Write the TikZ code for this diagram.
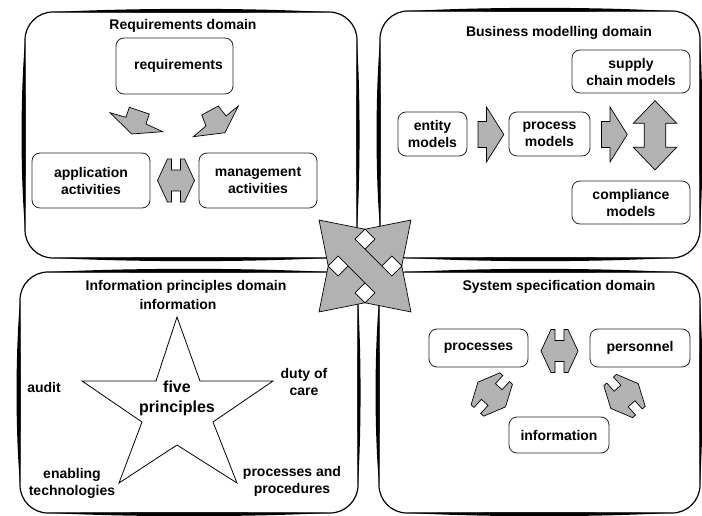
\documentclass[tikz,border=0pt]{standalone}
\usepackage{fontspec}
\setmainfont{Liberation Sans}
\usetikzlibrary{calc}

% thick brush-like strokes along the four sides of a rounded panel
\newcommand\panelbrush[1]{%
  \fill ($(#1.north west)+(30,0)$) .. controls ($(#1.north west)!0.33!(#1.north east)+(0,-4.2)$) and ($(#1.north west)!0.67!(#1.north east)+(0,-4.2)$) .. ($(#1.north east)+(-30,0)$) .. controls ($(#1.north west)!0.67!(#1.north east)+(0,0.8)$) and ($(#1.north west)!0.33!(#1.north east)+(0,0.8)$) .. cycle;
  \fill ($(#1.south west)+(30,0)$) .. controls ($(#1.south west)!0.33!(#1.south east)+(0,4.2)$) and ($(#1.south west)!0.67!(#1.south east)+(0,4.2)$) .. ($(#1.south east)+(-30,0)$) .. controls ($(#1.south west)!0.67!(#1.south east)+(0,-0.8)$) and ($(#1.south west)!0.33!(#1.south east)+(0,-0.8)$) .. cycle;
  \fill ($(#1.north west)+(0,30)$) .. controls ($(#1.north west)!0.33!(#1.south west)+(-4.6,0)$) and ($(#1.north west)!0.67!(#1.south west)+(-4.6,0)$) .. ($(#1.south west)+(0,-30)$) .. controls ($(#1.north west)!0.67!(#1.south west)+(0.8,0)$) and ($(#1.north west)!0.33!(#1.south west)+(0.8,0)$) .. cycle;
  \fill ($(#1.north east)+(0,30)$) .. controls ($(#1.north east)!0.33!(#1.south east)+(3.4,0)$) and ($(#1.north east)!0.67!(#1.south east)+(3.4,0)$) .. ($(#1.south east)+(0,-30)$) .. controls ($(#1.north east)!0.67!(#1.south east)+(-0.8,0)$) and ($(#1.north east)!0.33!(#1.south east)+(-0.8,0)$) .. cycle;
}

\tikzset{
  base/.style={font=\bfseries\fontsize{14}{17}\selectfont, align=center, inner sep=0pt},
  bigtext/.style={font=\bfseries\fontsize{16}{20}\selectfont, align=center, inner sep=0pt},
  panel/.style={draw, line width=1.2pt, rounded corners=28pt, outer sep=0pt, inner sep=0pt},
  box/.style={base, draw=black!85, line width=0.8pt, rounded corners=8pt, fill=white, outer sep=0pt},
  blockarrow/.style={draw=black, line width=0.7pt, fill=black!30, line join=miter},
  % short double arrow with notched shaft
  hdbl/.pic={\draw[blockarrow] (-18.5,0) -- (-8.5,-21.5) -- (-4.5,-21.5) -- (-4.5,-10.5) -- (4.5,-10.5) -- (4.5,-21.5) -- (8.5,-21.5) -- (18.5,0) -- (8.5,21.5) -- (4.5,21.5) -- (4.5,10.5) -- (-4.5,10.5) -- (-4.5,21.5) -- (-8.5,21.5) -- cycle;},
  % block arrow pointing right
  rarrow/.pic={\draw[blockarrow] (-13,-13) -- (-4.5,-13) -- (-4.5,-27.5) -- (12.8,0) -- (-4.5,27.5) -- (-4.5,13) -- (-13,13) -- cycle;},
  % vertical double block arrow
  vdbl/.pic={\draw[blockarrow] (0,-34.6) -- (21.7,-12) -- (10.8,-12) -- (10.8,12) -- (21.7,12) -- (0,34.6) -- (-21.7,12) -- (-10.8,12) -- (-10.8,-12) -- (-21.7,-12) -- cycle;},
  % jagged arrows down to the activities
  bentl/.pic={\draw[blockarrow] (-26,-8.3) -- (-10,-3.7) -- (-6.7,-13.7) -- (13.3,-7) -- (10,3) -- (26.7,10.7) -- (-4.3,13) -- cycle;},
  bentr/.pic={\draw[blockarrow] (22.3,-15) -- (10,-5) -- (2.3,-15) -- (-14.3,-6) -- (-10,5) -- (-22.7,15.7) -- (9,11.7) -- cycle;},
  % two crossing double arrows linking the four domains
  crossarrows/.pic={
    \fill[white] (-46,-46) -- (0,-36.8) -- (46,-46) -- (36.8,0) -- (46,46) -- (0,36.8) -- (-46,46) -- (-36.8,0) -- cycle;
    \draw[blockarrow, rotate=45] (-65,0) -- (-26,-26) -- (-26,-12) -- (26,-12) -- (26,-26) -- (65,0) -- (26,26) -- (26,12) -- (-26,12) -- (-26,26) -- cycle;
    \draw[blockarrow, rotate=-45] (-65,0) -- (-26,-26) -- (-26,-12) -- (26,-12) -- (26,-26) -- (65,0) -- (26,26) -- (26,12) -- (-26,12) -- (-26,26) -- cycle;
  },
}

\begin{document}
\begin{tikzpicture}[x=1pt, y=-1pt]
\fill[white] (0,0) rectangle (702,516);
\useasboundingbox (0,0) rectangle (702,516);

% domain panels
\node[panel, minimum width=332pt, minimum height=246pt] (reqdom) at (191,135) {};
\node[panel, minimum width=320pt, minimum height=247pt] (busdom) at (540,134.5) {};
\node[panel, minimum width=338pt, minimum height=241pt] (infodom) at (189,392.5) {};
\node[panel, minimum width=321pt, minimum height=241pt] (sysdom) at (539.5,392.5) {};
\panelbrush{reqdom}
\panelbrush{busdom}
\panelbrush{infodom}
\panelbrush{sysdom}

% requirements domain
\node[base] (reqtitle) at (183,26) {Requirements domain};
\node[box, minimum width=117pt, minimum height=56pt] (req) at (174.5,66) {\hspace*{8pt}requirements};
\node[box, minimum width=118pt, minimum height=55pt] (appact) at (91,180.5) {application\\activities};
\node[box, minimum width=118pt, minimum height=55pt] (mgmt) at (258,180.5) {management\\activities};
\pic at ($(req.south west)!0.5!(appact.north east)+(3,-2.5)$) {bentl};
\pic at ($(req.south east)!0.5!(mgmt.north west)+(0,-2.5)$) {bentr};
\pic at ($(appact.east)!0.5!(mgmt.west)+(1.5,0)$) {hdbl};

% business modelling domain
\node[base] (bustitle) at (559,33) {Business modelling domain};
\node[box, minimum width=118pt, minimum height=43pt] (supply) at (631,71.5) {supply\\chain models};
\node[box, minimum width=69pt, minimum height=44pt] (entity) at (432.5,134) {entity\\models};
\node[box, minimum width=81pt, minimum height=44pt] (process) at (549.5,134) {process\\models};
\node[box, minimum width=118pt, minimum height=43pt] (compliance) at (631,202.5) {compliance\\models};
\pic at ($(entity.east)!0.5!(process.west)+(3,0.5)$) {rarrow};
\pic at ($(process.east)+(24.5,0.5)$) {rarrow};
\pic at ($(supply.south)!0.5!(compliance.north)+(24,-1.7)$) {vdbl};

% information principles domain
\node[base] (infotitle) at (186,287) {Information principles domain};
\node[base] (infosub) at (178,304) {information};
\draw[line width=0.8pt, fill=white] (177,317) -- (200,381) -- (273,381) -- (213,422) -- (237,483) -- (177,445) -- (119,483) -- (142,422) -- (82,381) -- (156,381) -- cycle;
\node[bigtext] (five) at (177,398) {five\\principles};
\node[base] (audit) at (44,387) {audit};
\node[base] (duty) at (304,382) {duty of\\care};
\node[base] (enabling) at (72,483) {enabling\\technologies};
\node[base] (procedures) at (292,481) {processes and\\procedures};

% system specification domain
\node[base] (systitle) at (559,287) {System specification domain};
\node[box, minimum width=99pt, minimum height=38pt] (processes) at (478.5,348) {processes};
\node[box, minimum width=100pt, minimum height=38pt] (personnel) at (640,348) {personnel};
\node[box, minimum width=100pt, minimum height=36pt] (information) at (559,435) {information};
\pic at ($(processes.east)!0.5!(personnel.west)+(0.5,3)$) {hdbl};
\pic[rotate=-42] at ($(processes.south)!0.5!(information.north west)+(-2,2.5)$) {hdbl};
\pic[rotate=42] at ($(personnel.south)!0.5!(information.north east)+(0,4)$) {hdbl};

% links between the domains
\coordinate (hub) at (365,266);
\pic at (hub) {crossarrows};
\end{tikzpicture}
\end{document}
